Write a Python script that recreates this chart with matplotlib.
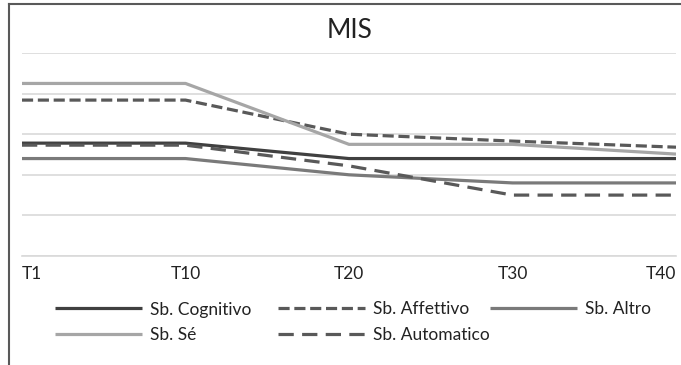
import numpy as np
import matplotlib
matplotlib.use("Agg")
import matplotlib.pyplot as plt
from matplotlib.lines import Line2D

plt.rcParams['font.family'] = ['Lato', 'DejaVu Sans']
plt.rcParams['lines.scale_dashes'] = False

# data (gridlines = 1 unit, no y labels shown)
times = ['T1', 'T10', 'T20', 'T30', 'T40']
cognitivo = [2.78, 2.78, 2.40, 2.40, 2.40]
affettivo = [3.84, 3.84, 3.00, 2.83, 2.68]
altro = [2.40, 2.40, 2.00, 1.80, 1.80]
se = [4.25, 4.25, 2.75, 2.75, 2.51]
automatico = [2.73, 2.73, 2.22, 1.50, 1.50]

W, H = 681, 365
fig = plt.figure(figsize=(W / 100, H / 100), dpi=100)
ax = fig.add_axes([22 / W, (H - 256) / H, (676 - 22) / W, (256 - 53) / H])

x = np.arange(len(times))
lw = 2.3
series = [
    (cognitivo, 'Sb. Cognitivo', '#404040', '-'),
    (affettivo, 'Sb. Affettivo', '#595959', (0, (8, 3.4))),
    (altro, 'Sb. Altro', '#7a7a7a', '-'),
    (se, 'Sb. Sé', '#a6a6a6', '-'),
    (automatico, 'Sb. Automatico', '#595959', (0, (11, 6))),
]
for vals, name, c, ls in series:
    ax.plot(x, vals, color=c, lw=lw, ls=ls, label=name,
            solid_capstyle='butt', dash_capstyle='butt')

ax.set_xlim(0, len(times) - 1)
ax.set_ylim(0, 5)
ax.set_yticks(np.arange(0, 6))
ax.set_yticklabels([])
ax.grid(axis='y', color='#d9d9d9', lw=1.2)
ax.set_axisbelow(True)
ax.tick_params(length=0)
for s in ['top', 'right', 'left']:
    ax.spines[s].set_visible(False)
ax.spines['bottom'].set_color('#d9d9d9')
ax.spines['bottom'].set_linewidth(1.2)

ax.set_xticks(x)
ax.set_xticklabels(times, fontsize=12.5, color='#222222')
ax.tick_params(axis='x', pad=7)
labs = ax.get_xticklabels()
labs[0].set_ha('left')
labs[-1].set_ha('right')

fig.text(350 / W, 1 - 31 / H, 'MIS', fontsize=19, ha='center', va='center', color='#222222')

# legend flows row by row like Excel's, so place entries by hand
slots = [(55, 308), (278, 308), (490, 308), (55, 334), (278, 334)]
for (vals, name, c, ls), (px, py) in zip(series, slots):
    yy = 1 - py / H
    fig.add_artist(Line2D([px / W, (px + 87) / W], [yy, yy], color=c, lw=lw, ls=ls,
                          solid_capstyle='butt', dash_capstyle='butt'))
    fig.text((px + 95) / W, yy, name, fontsize=12.5, ha='left', va='center_baseline',
             color='#222222')

# chart border (left and top visible)
fig.add_artist(Line2D([8.5 / W, 8.5 / W], [0, 1 - 4 / H], color='#595959', lw=1.5))
fig.add_artist(Line2D([8.5 / W, 1], [1 - 4 / H, 1 - 4 / H], color='#595959', lw=1.5))

fig.savefig('out.png', dpi=100)
